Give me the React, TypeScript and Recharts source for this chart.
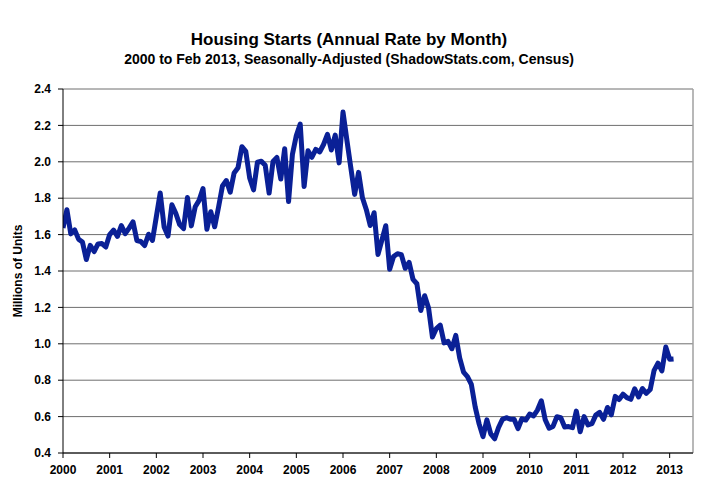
import React from 'react';
import { LineChart, Line, XAxis, YAxis, CartesianGrid, ReferenceLine } from 'recharts';

const startYear = 2000;
const yearLabels = ['2000','2001','2002','2003','2004','2005','2006','2007','2008','2009','2010','2011','2012','2013'];
const yTicks = [0.4, 0.6, 0.8, 1.0, 1.2, 1.4, 1.6, 1.8, 2.0, 2.2, 2.4];

const y2000 = [1.636,1.737,1.604,1.626,1.575,1.559,1.463,1.541,1.507,1.549,1.551,1.532];
const y2001 = [1.600,1.625,1.590,1.649,1.605,1.636,1.670,1.567,1.562,1.540,1.602,1.568];
const y2002 = [1.698,1.829,1.642,1.592,1.764,1.717,1.655,1.633,1.804,1.648,1.753,1.788];
const y2003 = [1.853,1.629,1.726,1.643,1.751,1.867,1.897,1.833,1.939,1.967,2.083,2.057];
const y2004 = [1.911,1.846,1.998,2.003,1.981,1.828,2.002,2.024,1.905,2.072,1.782,2.042];
const y2005 = [2.144,2.207,1.864,2.061,2.025,2.068,2.054,2.095,2.151,2.065,2.147,1.994];
const y2006 = [2.273,2.119,1.969,1.821,1.942,1.802,1.737,1.650,1.720,1.491,1.570,1.649];
const y2007 = [1.409,1.480,1.495,1.490,1.415,1.448,1.354,1.330,1.183,1.264,1.197,1.037];
const y2008 = [1.084,1.103,1.005,1.013,0.973,1.046,0.923,0.844,0.820,0.777,0.652,0.560];
const y2009 = [0.490,0.582,0.505,0.478,0.540,0.585,0.594,0.586,0.585,0.534,0.588,0.581];
const y2010 = [0.614,0.604,0.636,0.687,0.583,0.536,0.546,0.599,0.594,0.543,0.545,0.539];
const y2011 = [0.630,0.517,0.600,0.554,0.561,0.608,0.623,0.585,0.650,0.610,0.711,0.694];
const y2012 = [0.723,0.704,0.695,0.753,0.708,0.754,0.728,0.749,0.854,0.894,0.851,0.982];
const y2013 = [0.915,0.917];

const starts = [
  ...y2000, ...y2001, ...y2002, ...y2003, ...y2004, ...y2005, ...y2006,
  ...y2007, ...y2008, ...y2009, ...y2010, ...y2011, ...y2012, ...y2013,
];

const data = starts.map((v, i) => ({ m: i, v }));
const xTicks = yearLabels.map((_, i) => i * 12);

const FONT = '"Liberation Sans", Arial, sans-serif';
const tickStyle = { fontFamily: FONT, fontWeight: 700, fontSize: 12, fill: '#000' };

export default function App() {
  return (
    <div style={{ position: 'absolute', left: 0, top: 0, width: 721, height: 500, background: '#fff', fontFamily: FONT }}>
      <div style={{ position: 'absolute', left: 0, width: 698, top: 30, textAlign: 'center', fontWeight: 700, fontSize: 17, lineHeight: '20px' }}>
        Housing Starts (Annual Rate by Month)
      </div>
      <div style={{ position: 'absolute', left: 0, width: 698, top: 51, textAlign: 'center', fontWeight: 700, fontSize: 14, lineHeight: '17px' }}>
        2000 to Feb 2013, Seasonally-Adjusted (ShadowStats.com, Census)
      </div>
      <div style={{ position: 'absolute', left: 18, top: 271, width: 0, height: 0 }}>
        <div style={{ position: 'absolute', left: 0, top: 0, transform: 'translate(-50%, -50%) rotate(-90deg)', whiteSpace: 'nowrap', fontWeight: 700, fontSize: 12 }}>
          Millions of Units
        </div>
      </div>
      <LineChart
        width={721}
        height={500}
        data={data}
        margin={{ top: 89, right: 28, bottom: 17, left: 0 }}
        style={{ position: 'absolute', left: 0, top: 0 }}
      >
        <CartesianGrid vertical={false} stroke="#6e6e6e" strokeWidth={1} />
        <ReferenceLine x={162} stroke="#a0a0a0" strokeWidth={1.5} ifOverflow="extendDomain" />
        <XAxis
          dataKey="m"
          type="number"
          domain={[0, 162]}
          ticks={xTicks}
          tickFormatter={(t: number) => yearLabels[Math.round(t / 12)] ?? String(startYear + t / 12)}
          interval={0}
          height={30}
          tickSize={5}
          tickMargin={7}
          axisLine={{ stroke: '#000', strokeWidth: 1 }}
          tickLine={{ stroke: '#000' }}
          tick={tickStyle}
          allowDataOverflow
        />
        <YAxis
          type="number"
          domain={[0.4, 2.4]}
          ticks={yTicks}
          interval={0}
          width={63}
          tickSize={5}
          tickMargin={7}
          tickFormatter={(t: number) => t.toFixed(1)}
          axisLine={{ stroke: '#000', strokeWidth: 1 }}
          tickLine={{ stroke: '#000' }}
          tick={tickStyle}
          allowDataOverflow
        />
        <Line
          type="linear"
          dataKey="v"
          stroke="#0a2096"
          strokeWidth={5}
          dot={false}
          isAnimationActive={false}
          strokeLinejoin="round"
        />
      </LineChart>
    </div>
  );
}
